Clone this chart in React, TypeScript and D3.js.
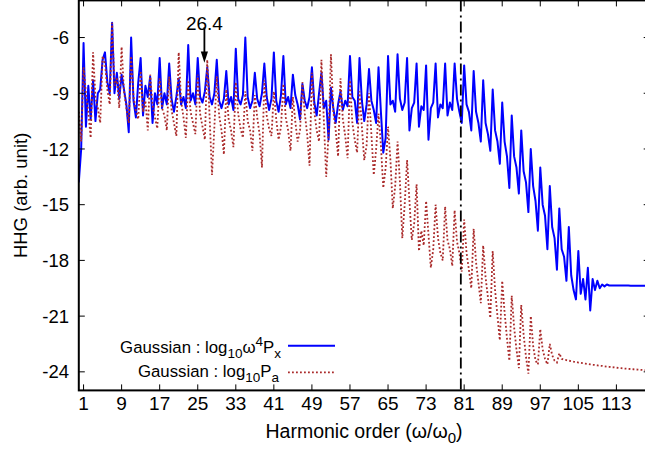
import React from 'react';
import * as d3 from 'd3';

const W = 645;
const H = 451;
const plot = { left: 78.8, right: 649.7, top: 0.4, bottom: 390.4 };

const xDomain = [0, 120];
const yDomain = [-25, -4];
const xTicks = [1, 9, 17, 25, 33, 41, 49, 57, 65, 73, 81, 89, 97, 105, 113];
const yTicks = [-24, -21, -18, -15, -12, -9, -6];
const sampleStep = 0.5; // harmonic order spacing of the samples
const cutoffOrder = 80.3;
const annotOrder = 26.4;
const annotLabel = '26.4';

// Gaussian : log10 w^4 Px, sampled every 0.5 harmonic order from 0 to 120
const blueValues = [
  -13.8, -12.0, -6.3, -10.8, -8.6, -10.4, -8.3, -10.5, -9.0, -8.8,
  -7.2, -6.8, -8.4, -9.0, -5.2, -9.0, -7.9, -9.3, -8.0, -8.8,
  -9.6, -11.1, -6.0, -9.4, -10.3, -8.4, -7.1, -10.2, -8.6, -9.2,
  -8.1, -10.6, -9.0, -9.6, -7.1, -9.8, -9.0, -9.6, -7.4, -9.3,
  -10.0, -9.2, -8.2, -9.6, -9.2, -9.8, -6.4, -9.4, -9.0, -9.6,
  -7.1, -9.2, -9.5, -8.9, -7.6, -9.2, -9.6, -9.0, -7.2, -9.4,
  -9.8, -9.3, -7.8, -9.6, -9.2, -9.9, -6.6, -9.3, -9.6, -9.1,
  -6.0, -9.2, -9.8, -9.4, -7.9, -9.3, -9.7, -9.0, -7.4, -9.2,
  -9.9, -9.3, -6.8, -9.4, -10.0, -9.1, -7.0, -9.6, -9.2, -9.8,
  -8.0, -9.1, -9.6, -10.4, -8.5, -9.4, -9.8, -9.2, -7.6, -9.5,
  -10.2, -9.0, -7.9, -9.8, -9.4, -11.5, -8.7, -9.8, -10.6, -9.6,
  -8.9, -9.9, -9.4, -9.7, -7.0, -9.2, -9.4, -10.6, -7.1, -9.4,
  -10.5, -9.6, -7.7, -9.4, -9.9, -10.6, -7.6, -10.0, -12.2, -11.4,
  -7.0, -9.6, -9.4, -10.0, -6.9, -9.3, -9.9, -9.5, -7.1, -11.0,
  -9.8, -9.5, -7.4, -10.8, -9.7, -9.9, -7.5, -11.5, -9.8, -9.5,
  -7.4, -10.3, -9.6, -9.8, -7.4, -10.2, -9.5, -9.9, -7.4, -9.3,
  -10.0, -10.6, -7.5, -9.6, -10.0, -11.0, -7.8, -10.0, -10.6, -11.6,
  -8.3, -10.6, -11.2, -12.1, -8.8, -11.0, -11.6, -12.8, -9.5, -11.6,
  -12.4, -14.1, -10.2, -12.4, -13.0, -14.4, -11.0, -13.2, -13.8, -15.4,
  -12.0, -14.0, -14.8, -16.4, -13.0, -15.0, -15.6, -17.4, -14.0, -16.2,
  -16.8, -18.5, -15.2, -17.4, -17.8, -19.1, -16.2, -18.8, -19.6, -20.1,
  -17.5, -19.8, -19.0, -20.1, -18.4, -20.7, -19.0, -19.6, -19.1, -19.5,
  -19.3, -19.4, -19.3, -19.35, -19.35, -19.35, -19.35, -19.35, -19.35, -19.35,
  -19.35, -19.35, -19.36, -19.36, -19.36, -19.36, -19.36, -19.37, -19.37, -19.37,
  -19.37,
];

// Gaussian : log10 Pa, same sampling
const redValues = [
  -10.0, -11.6, -7.6, -9.0, -10.0, -11.4, -6.8, -9.2, -9.8, -10.6,
  -7.0, -7.4, -8.8, -9.6, -5.2, -8.6, -8.2, -9.8, -6.5, -8.9,
  -9.8, -10.6, -7.0, -9.2, -9.9, -10.4, -7.8, -10.0, -9.4, -11.0,
  -8.0, -9.6, -10.3, -10.9, -8.2, -9.8, -10.2, -11.0, -8.1, -9.9,
  -10.6, -11.3, -6.8, -9.4, -10.3, -11.4, -8.3, -10.0, -10.6, -11.2,
  -8.0, -10.1, -10.8, -11.5, -7.2, -10.3, -13.4, -10.8, -8.1, -10.2,
  -11.0, -12.3, -8.8, -10.4, -11.0, -11.9, -8.4, -10.1, -10.9, -11.4,
  -8.9, -10.5, -11.0, -12.1, -9.1, -10.3, -11.2, -13.0, -8.3, -10.2,
  -10.9, -11.3, -8.9, -10.4, -11.5, -10.8, -8.5, -10.3, -11.0, -12.1,
  -9.2, -10.5, -11.6, -11.0, -8.4, -10.1, -11.2, -12.9, -7.9, -10.0,
  -11.0, -11.6, -7.2, -10.4, -13.5, -11.2, -6.9, -10.0, -11.0, -12.4,
  -8.2, -10.4, -11.3, -12.5, -8.3, -10.6, -11.5, -12.2, -8.9, -10.8,
  -12.6, -11.8, -9.0, -11.2, -13.4, -12.0, -10.1, -11.8, -14.1, -13.0,
  -10.8, -12.6, -15.2, -14.0, -11.6, -13.8, -16.8, -15.0, -12.6, -14.8,
  -16.9, -16.0, -13.9, -17.5, -16.4, -17.2, -14.8, -16.6, -18.4, -17.4,
  -15.0, -16.8, -17.6, -18.0, -15.1, -16.9, -17.4, -18.3, -15.3, -17.0,
  -17.6, -18.6, -15.8, -17.6, -18.5, -19.5, -16.3, -18.1, -19.2, -20.3,
  -17.2, -18.9, -20.0, -21.1, -17.5, -19.6, -21.0, -22.3, -19.1, -20.8,
  -22.2, -23.4, -19.9, -21.6, -22.8, -23.8, -20.4, -22.0, -23.2, -24.1,
  -21.0, -22.6, -23.4, -23.6, -21.7, -22.8, -23.3, -23.6, -22.5, -23.1,
  -23.4, -23.5, -23.0, -23.3, -23.35, -23.37, -23.4, -23.42, -23.45, -23.47,
  -23.5, -23.52, -23.54, -23.56, -23.58, -23.6, -23.62, -23.63, -23.65, -23.67,
  -23.68, -23.7, -23.72, -23.73, -23.75, -23.76, -23.78, -23.79, -23.8, -23.82,
  -23.83, -23.84, -23.85, -23.86, -23.87, -23.88, -23.89, -23.9, -23.91, -23.92,
  -23.93,
];

const FONT = '"Liberation Sans", Arial, Helvetica, sans-serif';

export default function App() {
  const x = d3.scaleLinear().domain(xDomain).range([plot.left, plot.right]);
  const y = d3.scaleLinear().domain(yDomain).range([plot.bottom, plot.top]);

  const line = d3
    .line<number>()
    .x((_, i) => x(i * sampleStep))
    .y((d) => y(d));

  const tickLen = 6;
  const legendX0 = 288;
  const legendX1 = 335;

  return (
    <svg
      width={W}
      height={H}
      viewBox={`0 0 ${W} ${H}`}
      style={{ position: 'absolute', left: 0, top: 0, background: '#fff' }}
      fontFamily={FONT}
    >
      <defs>
        <clipPath id="plotClip">
          <rect x={plot.left} y={plot.top} width={plot.right - plot.left} height={plot.bottom - plot.top} />
        </clipPath>
      </defs>
      <rect x={0} y={0} width={W} height={H} fill="#fff" />

      <g clipPath="url(#plotClip)">
        <path d={line(blueValues) || ''} fill="none" stroke="#0000ff" strokeWidth={2} strokeLinejoin="round" />
        <path
          d={line(redValues) || ''}
          fill="none"
          stroke="#aa2a2a"
          strokeWidth={1.8}
          strokeDasharray="1.8,2.2"
        />
        <line
          x1={x(cutoffOrder)}
          x2={x(cutoffOrder)}
          y1={plot.top}
          y2={plot.bottom}
          stroke="#000"
          strokeWidth={1.8}
          strokeDasharray="11,4,2,4"
        />
      </g>

      {/* frame */}
      <rect
        x={plot.left}
        y={plot.top}
        width={plot.right - plot.left}
        height={plot.bottom - plot.top}
        fill="none"
        stroke="#000"
        strokeWidth={2}
      />

      {/* x ticks */}
      {xTicks.map((t) => (
        <g key={'xt' + t}>
          <line x1={x(t)} x2={x(t)} y1={plot.bottom} y2={plot.bottom - tickLen} stroke="#000" strokeWidth={1} />
          <line x1={x(t)} x2={x(t)} y1={plot.top} y2={plot.top + tickLen} stroke="#000" strokeWidth={1} />
          <text x={x(t)} y={410} fontSize={19} textAnchor="middle" fill="#000">
            {t}
          </text>
        </g>
      ))}

      {/* y ticks */}
      {yTicks.map((t) => (
        <g key={'yt' + t}>
          <line x1={plot.left} x2={plot.left + tickLen} y1={y(t)} y2={y(t)} stroke="#000" strokeWidth={1} />
          <line x1={plot.right} x2={plot.right - tickLen} y1={y(t)} y2={y(t)} stroke="#000" strokeWidth={1} />
          <text x={69} y={y(t)} dy="0.36em" fontSize={18.5} textAnchor="end" fill="#000">
            {t}
          </text>
        </g>
      ))}

      {/* axis titles */}
      <text x={364} y={438} fontSize={19.5} textAnchor="middle" fill="#000">
        Harmonic order (ω/ω<tspan dy={5} fontSize={15}>0</tspan>
        <tspan dy={-5}>)</tspan>
      </text>
      <text
        transform={`translate(27, ${(plot.top + plot.bottom) / 2}) rotate(-90)`}
        fontSize={18.5}
        textAnchor="middle"
        fill="#000"
      >
        HHG (arb. unit)
      </text>

      {/* annotation */}
      <text x={x(annotOrder)} y={y(-5.57)} fontSize={19} textAnchor="middle" fill="#000">
        {annotLabel}
      </text>
      <line x1={x(annotOrder)} x2={x(annotOrder)} y1={y(-5.45)} y2={y(-6.8)} stroke="#000" strokeWidth={1.8} />
      <path
        d={`M${x(annotOrder) - 3.6},${y(-6.75)} L${x(annotOrder) + 3.6},${y(-6.75)} L${x(annotOrder)},${y(-7.36)} Z`}
        fill="#000"
      />

      {/* legend */}
      <text x={281} y={352.7} fontSize={16.8} textAnchor="end" fill="#000">
        Gaussian : log<tspan dy={5} fontSize={13.5}>10</tspan>
        <tspan dy={-5}>ω</tspan>
        <tspan dy={-7} fontSize={13.5}>4</tspan>
        <tspan dy={7}>P</tspan>
        <tspan dy={5} fontSize={13.5}>x</tspan>
      </text>
      <line x1={legendX0} x2={legendX1} y1={345.7} y2={345.7} stroke="#0000ff" strokeWidth={2} />
      <text x={279} y={376.7} fontSize={16.8} textAnchor="end" fill="#000">
        Gaussian : log<tspan dy={5} fontSize={13.5}>10</tspan>
        <tspan dy={-5}>P</tspan>
        <tspan dy={5} fontSize={13.5}>a</tspan>
      </text>
      <line
        x1={legendX0}
        x2={legendX1}
        y1={372.3}
        y2={372.3}
        stroke="#aa2a2a"
        strokeWidth={1.8}
        strokeDasharray="1.8,2.2"
      />
    </svg>
  );
}
